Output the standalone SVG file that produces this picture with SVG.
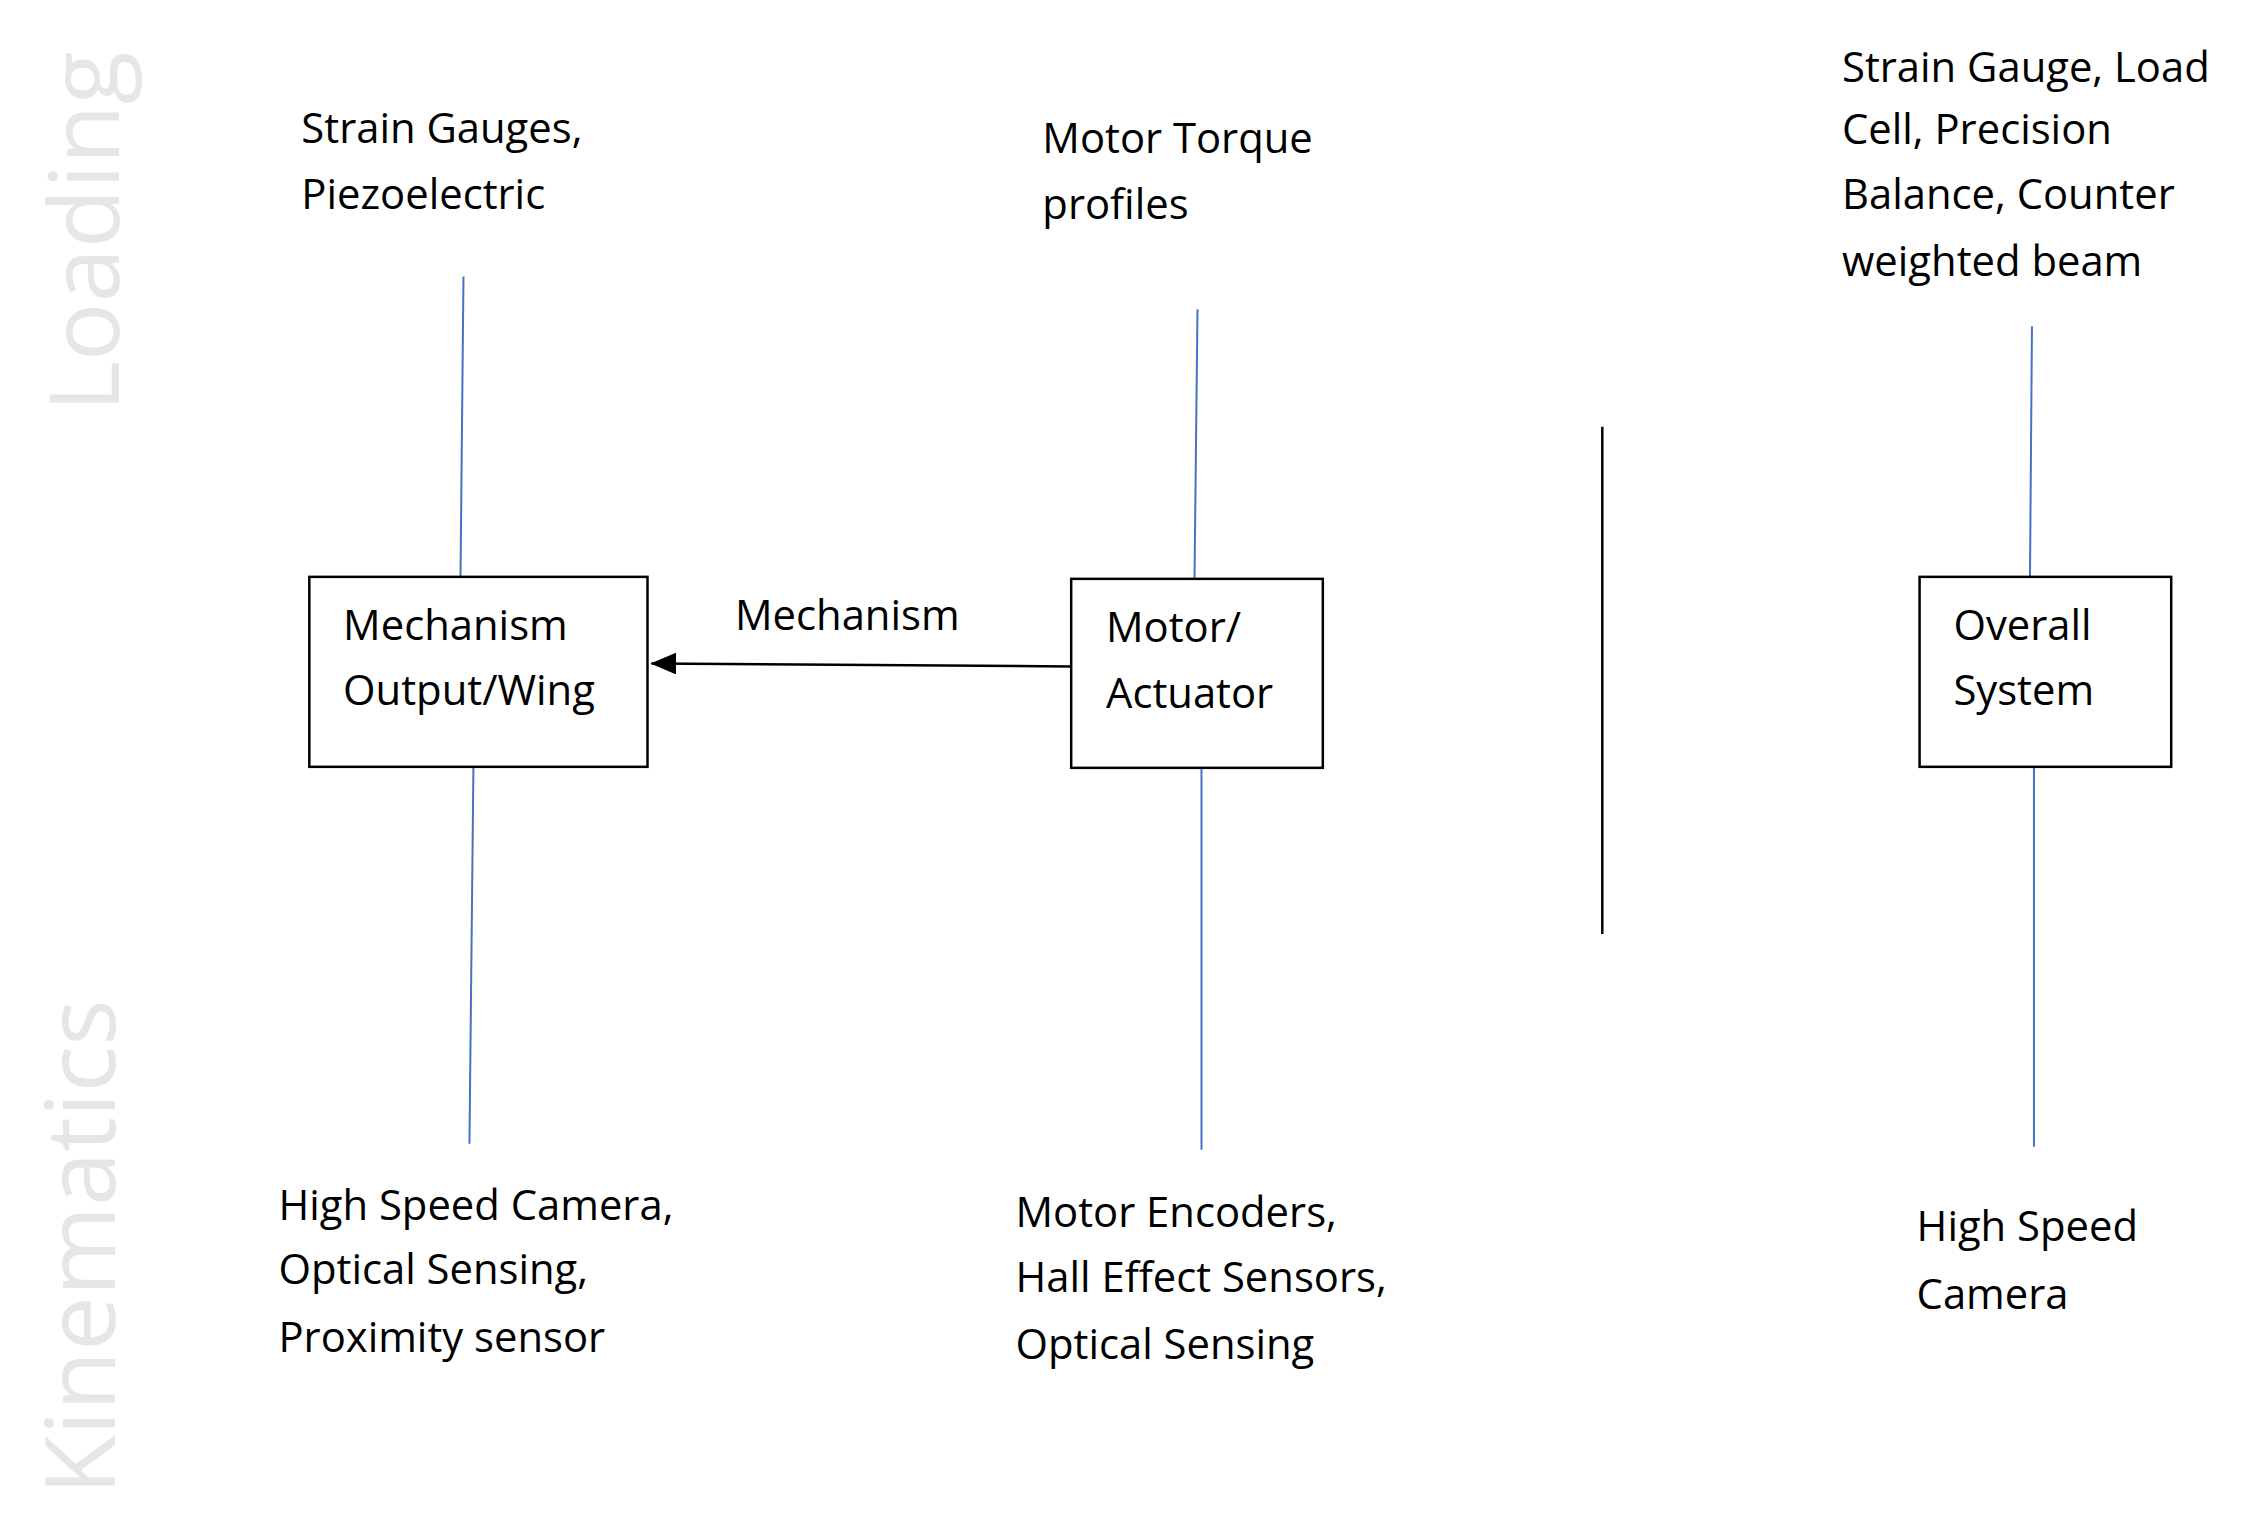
<svg xmlns="http://www.w3.org/2000/svg" width="2243" height="1536" viewBox="0 0 2243 1536">
<style>
text{font-family:"Open Sans","Noto Sans",sans-serif;font-size:42px;fill:#000}
.side{font-size:98px;fill:#e6e6e6;text-anchor:middle}
.box{fill:#fff;stroke:#000;stroke-width:2.5}
.blue{stroke:#4472c4;stroke-width:2;fill:none}
</style>
<defs>
<marker id="a2" markerWidth="26" markerHeight="22" refX="25" refY="11" orient="auto" markerUnits="userSpaceOnUse"><path d="M0,0 L26,11 L0,22z" fill="#000"/></marker></defs>
<rect width="2243" height="1536" fill="#fff"/>
<g transform="scale(0.9946)">
<text class="side" transform="translate(120,233) rotate(-90)">Loading</text>
<text class="side" transform="translate(116,1254) rotate(-90)">Kinematics</text>
<g id="connectors">
<line class="blue" x1="466" y1="278" x2="463" y2="580"/>
<line class="blue" x1="476" y1="771" x2="472" y2="1150"/>
<line class="blue" x1="1204" y1="311" x2="1201" y2="582"/>
<line class="blue" x1="1208" y1="772" x2="1208" y2="1156"/>
<line class="blue" x1="2043" y1="328" x2="2041" y2="580"/>
<line class="blue" x1="2045" y1="771" x2="2045" y2="1153"/>
<line x1="1611" y1="429" x2="1611" y2="939" stroke="#000" stroke-width="2.5"/>
<line x1="1077" y1="670" x2="655" y2="667" stroke="#000" stroke-width="2.5" marker-end="url(#a2)"/>
<text x="739" y="633">Mechanism</text>
</g>
<g id="wing"><rect class="box" x="311" y="580" width="340" height="191"/><text x="345" y="643">Mechanism</text><text x="345" y="709">Output/Wing</text></g>
<g id="motor"><rect class="box" x="1077" y="582" width="253" height="190"/><text x="1112" y="646">Motor/</text><text x="1112" y="712">Actuator</text></g>
<g id="system"><rect class="box" x="1930" y="580" width="253" height="191"/><text x="1964" y="643">Overall</text><text x="1964" y="709">System</text></g>
<g id="load1"><text x="303" y="144">Strain Gauges,</text><text x="303" y="210">Piezoelectric</text></g>
<g id="load2"><text x="1048" y="154">Motor Torque</text><text x="1048" y="220">profiles</text></g>
<g id="load3"><text x="1852" y="82">Strain Gauge, Load</text><text x="1852" y="145">Cell, Precision</text><text x="1852" y="210">Balance, Counter</text><text x="1852" y="278">weighted beam</text></g>
<g id="kin1"><text x="280" y="1227">High Speed Camera,</text><text x="280" y="1291">Optical Sensing,</text><text x="280" y="1359">Proximity sensor</text></g>
<g id="kin2"><text x="1021" y="1234">Motor Encoders,</text><text x="1021" y="1299">Hall Effect Sensors,</text><text x="1021" y="1366">Optical Sensing</text></g>
<g id="kin3"><text x="1927" y="1248">High Speed</text><text x="1927" y="1316">Camera</text></g>
</g>
</svg>
